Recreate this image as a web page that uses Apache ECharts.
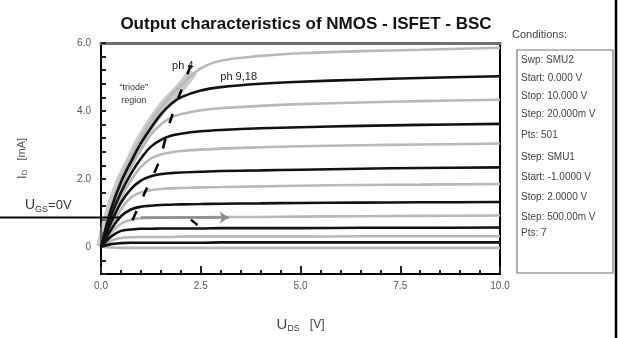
<!DOCTYPE html>
<html>
<head>
<meta charset="utf-8">
<script src="https://cdn.jsdelivr.net/npm/echarts@6/dist/echarts.min.js"></script>
<style>
  html, body { margin: 0; background: #fff; }
  #chart { width: 623px; height: 338px; }
</style>
</head>
<body>
<div id="chart"></div>
<script>
// drain-source sweep points (V)
const vds = [0, 0.25, 0.5, 0.75, 1, 1.25, 1.5, 1.75, 2, 2.5, 3, 4, 5, 6.5, 8, 10]

// pH 4 curves (gray), top to bottom, I_D in mA
const ph4_1 = [0, 1.2, 2.0, 2.6, 3.2, 3.7, 4.1, 4.45, 4.75, 5.25, 5.48, 5.62, 5.7, 5.76, 5.8, 5.86]
const ph4_2 = [0, 1.0, 1.75, 2.35, 2.85, 3.3, 3.6, 3.8, 3.9, 4.02, 4.08, 4.15, 4.2, 4.25, 4.29, 4.33]
const ph4_3 = [0, 0.8, 1.45, 1.95, 2.35, 2.6, 2.72, 2.78, 2.82, 2.86, 2.89, 2.93, 2.96, 2.99, 3.01, 3.04]
const ph4_4 = [0, 0.6, 1.1, 1.45, 1.6, 1.67, 1.7, 1.72, 1.73, 1.75, 1.76, 1.78, 1.8, 1.82, 1.83, 1.85]
const ph4_5 = [0, 0.4, 0.68, 0.8, 0.84, 0.85, 0.86, 0.86, 0.87, 0.87, 0.88, 0.88, 0.89, 0.9, 0.91, 0.92]
const ph4_6 = [0, 0.18, 0.26, 0.28, 0.29, 0.29, 0.29, 0.29, 0.3, 0.3, 0.3, 0.3, 0.3, 0.31, 0.31, 0.31]
const ph4_7 = [0, -0.02, -0.03, -0.03, -0.03, -0.03, -0.03, -0.03, -0.03, -0.03, -0.03, -0.03, -0.03, -0.03, -0.03, -0.03]

// pH 9.18 curves (black), top to bottom
const ph918_1 = [0, 1.1, 1.9, 2.5, 3.05, 3.5, 3.9, 4.2, 4.4, 4.6, 4.7, 4.8, 4.86, 4.92, 4.97, 5.02]
const ph918_2 = [0, 0.9, 1.6, 2.15, 2.6, 2.95, 3.15, 3.27, 3.33, 3.4, 3.44, 3.49, 3.52, 3.56, 3.59, 3.62]
const ph918_3 = [0, 0.7, 1.3, 1.7, 1.95, 2.08, 2.14, 2.17, 2.19, 2.21, 2.23, 2.25, 2.27, 2.3, 2.32, 2.34]
const ph918_4 = [0, 0.5, 0.9, 1.1, 1.18, 1.21, 1.23, 1.24, 1.25, 1.26, 1.27, 1.28, 1.29, 1.3, 1.31, 1.32]
const ph918_5 = [0, 0.3, 0.47, 0.51, 0.53, 0.53, 0.54, 0.54, 0.54, 0.54, 0.55, 0.55, 0.55, 0.56, 0.56, 0.57]
const ph918_6 = [0, 0.08, 0.11, 0.12, 0.12, 0.12, 0.12, 0.12, 0.12, 0.12, 0.13, 0.13, 0.13, 0.13, 0.13, 0.13]

// annotation shapes in data units
const triodeBand = [[0, 0], [0.25, 1.15], [0.5, 1.95], [0.75, 2.55], [1, 3.15], [1.5, 4.05], [2, 4.7], [2.3, 5.15]]
const kneeLocus = [[2.25, 5.35], [1.75, 3.75], [1.45, 2.5], [1.1, 1.6], [0.7, 0.55]]
const ugsLevel = 0.86
const ugsArrow = [[1.0, ugsLevel], [3.2, ugsLevel]]
const smallMark = [[2.25, 0.8], [2.42, 0.64]]

const conditions = [
  "Swp: SMU2", "Start: 0.000 V", "Stop: 10.000 V", "Step: 20.000m V", "Pts: 501",
  "Step: SMU1", "Start: -1.0000 V", "Stop: 2.0000 V", "Step: 500.00m V", "Pts: 7",
]

const gray = "#b8b8b8"
const black = "#111"
const font = "Liberation Sans, Arial, sans-serif"

const pair = (ys) => ys.map((y, i) => [vds[i], y])

function curve(ys, color) {
  return {
    type: "line",
    data: pair(ys),
    smooth: 0.35,
    symbol: "none",
    lineStyle: { color, width: 2.6 },
    z: color === black ? 4 : 3,
  }
}

const grayCurves = [ph4_1, ph4_2, ph4_3, ph4_4, ph4_5, ph4_6, ph4_7]
const blackCurves = [ph918_1, ph918_2, ph918_3, ph918_4, ph918_5, ph918_6]

const chart = echarts.init(document.getElementById("chart"), null, { renderer: "canvas" })

const isLabel = (v) => Math.abs(v - Math.round(v / 2) * 2) < 1e-6

chart.setOption({
  backgroundColor: "#fff",
  animation: false,
  textStyle: { fontFamily: font },
  title: {
    text: "Output characteristics of NMOS - ISFET - BSC",
    left: 301,
    textAlign: "center",
    top: 11,
    textStyle: { fontFamily: font, fontSize: 17, fontWeight: "bold", color: "#111" },
  },
  grid: { left: 101, right: 123, top: 43, bottom: 61 },
  xAxis: [
    {
      type: "value",
      min: 0,
      max: 10,
      interval: 2.5,
      name: "{u|U}{s|DS}{b|   [V]}",
      nameLocation: "middle",
      nameGap: 42,
      nameTextStyle: {
        rich: {
          u: { fontSize: 15, color: "#444", fontFamily: font },
          s: { fontSize: 9, color: "#444", padding: [8, 0, 0, 0], fontFamily: font },
          b: { fontSize: 12, color: "#444", fontFamily: font },
        },
      },
      axisLine: { show: true, onZero: false, lineStyle: { color: "#000", width: 2 } },
      axisTick: { show: true, inside: true, length: 8, lineStyle: { color: "#222", width: 2 } },
      minorTick: { show: true, splitNumber: 5, length: 4, lineStyle: { color: "#222", width: 2 } },
      splitLine: { show: false },
      axisLabel: {
        color: "#555",
        fontSize: 10,
        margin: 7,
        formatter: (v) => v.toFixed(1),
      },
    },
    {
      type: "value",
      position: "top",
      min: 0,
      max: 10,
      axisLine: { show: true, onZero: false, lineStyle: { color: "#707070", width: 3 } },
      axisTick: { show: false },
      axisLabel: { show: false },
      splitLine: { show: false },
    },
  ],
  yAxis: [
    {
      type: "value",
      min: -0.8,
      max: 6.0,
      interval: 0.4,
      name: "{i|I}{s|D}{b|   [mA]}",
      nameLocation: "middle",
      nameRotate: 90,
      nameGap: 72,
      nameTextStyle: {
        rich: {
          i: { fontSize: 13, color: "#555", fontFamily: font },
          s: { fontSize: 8, color: "#555", padding: [6, 0, 0, 0], fontFamily: font },
          b: { fontSize: 11, color: "#555", fontFamily: font },
        },
      },
      axisLine: { show: true, onZero: false, lineStyle: { color: "#000", width: 2 } },
      axisTick: { show: true, inside: true, length: 5, lineStyle: { color: "#222", width: 2 } },
      splitLine: { show: false },
      axisLabel: {
        color: "#555",
        fontSize: 10,
        margin: 10,
        formatter: (v) => (isLabel(v) ? (Math.abs(v) < 1e-6 ? "0" : Math.round(v).toFixed(1)) : ""),
      },
    },
    {
      type: "value",
      position: "right",
      min: -0.8,
      max: 6.0,
      axisLine: { show: true, onZero: false, lineStyle: { color: "#000", width: 2 } },
      axisTick: { show: false },
      axisLabel: { show: false },
      splitLine: { show: false },
    },
  ],
  series: [
    {
      type: "line",
      data: triodeBand,
      smooth: 0.4,
      symbol: "none",
      lineStyle: { color: "rgba(160,160,160,0.55)", width: 10 },
      z: 2,
    },
    ...grayCurves.map((c) => curve(c, gray)),
    ...blackCurves.map((c) => curve(c, black)),
    {
      type: "line",
      data: kneeLocus,
      smooth: 0.3,
      symbol: "none",
      lineStyle: { color: "#000", width: 2.5, type: [10, 16] },
      z: 6,
    },
    {
      type: "lines",
      coordinateSystem: "cartesian2d",
      data: [{ coords: ugsArrow }],
      symbol: ["none", "arrow"],
      symbolSize: 9,
      lineStyle: { color: "#8c8c8c", width: 2.5, opacity: 1 },
      z: 7,
    },
    {
      type: "line",
      data: smallMark,
      symbol: "none",
      lineStyle: { color: "#000", width: 2.5 },
      z: 7,
    },
  ],
})

// annotations placed relative to the axes
const ugsPt = chart.convertToPixel({ gridIndex: 0 }, [0.5, ugsLevel])
const ph4Pt = chart.convertToPixel({ gridIndex: 0 }, [2.05, 5.15])
const ph918Pt = chart.convertToPixel({ gridIndex: 0 }, [3.45, 4.85])
const triodePt = chart.convertToPixel({ gridIndex: 0 }, [0.82, 4.5])

const condTop = 62
const condStep = [0, 18, 36, 54, 75, 97, 117, 137, 157, 173]

chart.setOption({
  graphic: [
    {
      type: "line",
      shape: { x1: 0, y1: ugsPt[1], x2: ugsPt[0], y2: ugsPt[1] },
      style: { stroke: "#000", lineWidth: 2 },
      z: 10,
    },
    {
      type: "text",
      left: 25,
      top: ugsPt[1] - 19,
      style: {
        text: "{u|U}{s|GS}{t|=0V}",
        rich: {
          u: { fontSize: 14, fill: "#333", fontFamily: font },
          s: { fontSize: 9, fill: "#333", padding: [7, 0, 0, 0], fontFamily: font },
          t: { fontSize: 13, fill: "#333", fontFamily: font },
        },
      },
    },
    {
      type: "text",
      x: ph4Pt[0],
      y: ph4Pt[1],
      style: { text: "ph 4", fontSize: 11, fill: "#222", fontFamily: font, align: "center", verticalAlign: "bottom" },
      z: 10,
    },
    {
      type: "text",
      x: ph918Pt[0],
      y: ph918Pt[1],
      style: { text: "ph 9,18", fontSize: 11, fill: "#222", fontFamily: font, align: "center", verticalAlign: "bottom" },
      z: 10,
    },
    {
      type: "text",
      x: triodePt[0],
      y: triodePt[1],
      style: {
        text: "\u201ctriode\u201d\nregion",
        fontSize: 9,
        lineHeight: 13,
        fill: "#333",
        fontFamily: font,
        align: "center",
        verticalAlign: "middle",
      },
      z: 10,
    },
    {
      type: "text",
      left: 512,
      top: 29,
      style: { text: "Conditions:", fontSize: 11, fill: "#444", fontFamily: font },
    },
    {
      type: "rect",
      shape: { x: 517, y: 50, width: 96, height: 223 },
      style: { fill: "#fff", stroke: "#777", lineWidth: 1.2 },
    },
    ...conditions.map((t, i) => ({
      type: "text",
      left: 521,
      top: condTop - 7 + condStep[i],
      style: { text: t, fontSize: 10, fill: "#444", fontFamily: font },
      z: 10,
    })),
    {
      type: "line",
      shape: { x1: 616, y1: 0, x2: 616, y2: 338 },
      style: { stroke: "#000", lineWidth: 2.5 },
    },
  ],
})
</script>
</body>
</html>
